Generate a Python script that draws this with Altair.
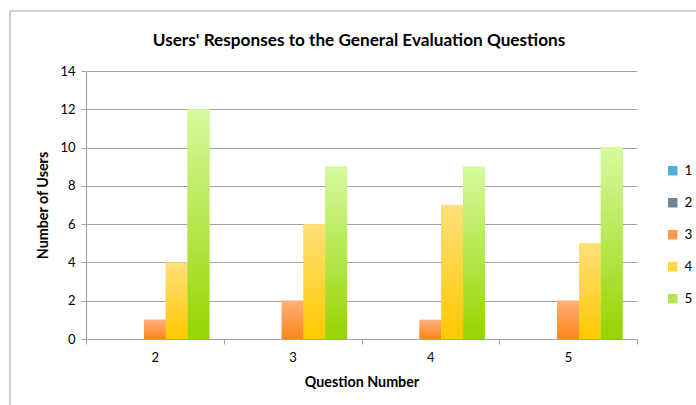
import altair as alt
import pandas as pd

# Question numbers on the x axis and the response levels (legend series)
questions = ["2", "3", "4", "5"]
levels = ["1", "2", "3", "4", "5"]

# Number of users giving each response level, per question
users_level_1 = [0, 0, 0, 0]
users_level_2 = [0, 0, 0, 0]
users_level_3 = [1, 2, 1, 2]
users_level_4 = [4, 6, 7, 5]
users_level_5 = [12, 9, 9, 10]

TITLE = "Users' Responses to the General Evaluation Questions"

# Gradient stops (top, bottom) and a flat colour for the legend swatch
top_colors = ["#93d2ea", "#a9b8c2", "#ffb07c", "#ffe07a", "#d6fa9e"]
bottom_colors = ["#2a93bf", "#456171", "#ff8418", "#ffc800", "#96d400"]
legend_colors = ["#4fb0d8", "#6f8796", "#ff9a4a", "#ffd640", "#b4e650"]

series = [users_level_1, users_level_2, users_level_3, users_level_4, users_level_5]
rows = []
for lvl, vals in zip(levels, series):
    for q, v in zip(questions, vals):
        rows.append({"question": q, "level": lvl, "users": v})
df = pd.DataFrame(rows)

FONT = "Lato"
GRID = "#a3a3a3"

x_enc = alt.X(
    "question:N",
    sort=questions,
    scale=alt.Scale(paddingInner=0, paddingOuter=0),
    axis=alt.Axis(
        title="Question Number",
        labelAngle=0,
        tickBand="extent",
        tickSize=5,
        labelPadding=7,
        titlePadding=11,
    ),
)
xoff_enc = alt.XOffset(
    "level:N",
    sort=levels,
    scale=alt.Scale(domain=levels, paddingOuter=0.66, paddingInner=0),
)
y_enc = alt.Y(
    "users:Q",
    scale=alt.Scale(domain=[0, 14], nice=False),
    axis=alt.Axis(
        title="Number of Users",
        values=list(range(0, 15, 2)),
        tickSize=5,
        labelPadding=6,
        titlePadding=9,
    ),
)

base = alt.Chart(df)

# Flat-coloured bars carry the legend; gradient bars are drawn over them
legend_layer = base.mark_bar().encode(
    x=x_enc,
    xOffset=xoff_enc,
    y=y_enc,
    color=alt.Color(
        "level:N",
        sort=levels,
        scale=alt.Scale(domain=levels, range=legend_colors),
        legend=alt.Legend(
            title=None,
            orient="none",
            legendX=580,
            legendY=93,
            symbolType="square",
            symbolSize=90,
            symbolStrokeWidth=0,
            rowPadding=17,
            labelFontSize=13.5,
            labelFont=FONT,
            labelColor="#000000",
            labelOffset=5,
        ),
    ),
)

gradient_layers = []
for lvl, top, bottom in zip(levels, top_colors, bottom_colors):
    grad = alt.Gradient(
        gradient="linear",
        stops=[
            alt.GradientStop(color=top, offset=0),
            alt.GradientStop(color=bottom, offset=1),
        ],
        x1=0, x2=0, y1=0, y2=1,
    )
    gradient_layers.append(
        base.transform_filter(alt.datum.level == lvl)
        .mark_bar(color=grad)
        .encode(x=x_enc, xOffset=xoff_enc, y=y_enc)
    )

one_row = alt.Chart(pd.DataFrame({"f": [0]}))

# Outer chart frame
frame = one_row.mark_rect(
    fill=None, stroke="#a8a8a8", strokeWidth=1.2
).encode(
    x=alt.value(-76), x2=alt.value(640), y=alt.value(-60), y2=alt.value(360)
)

# Chart heading
heading = one_row.mark_text(
    font=FONT, fontSize=17.2, fontWeight="bold", color="#000000",
    align="center", baseline="middle",
).encode(x=alt.value(273), y=alt.value(-30), text=alt.value(TITLE))

chart = (
    alt.layer(frame, legend_layer, *gradient_layers, heading)
    .properties(
        width=551,
        height=268,
        padding={"left": 86, "top": 71, "right": 59, "bottom": 66},
        autosize=alt.AutoSizeParams(type="none"),
        background="#ffffff",
    )
    .configure_view(stroke=None)
    .configure_axis(
        labelFont=FONT,
        titleFont=FONT,
        labelFontSize=13,
        titleFontSize=14.3,
        titleFontWeight="bold",
        labelColor="#000000",
        titleColor="#000000",
        domainColor=GRID,
        tickColor=GRID,
        gridColor=GRID,
        gridWidth=1.2,
        domainWidth=1.2,
    )
    .configure_axisX(grid=False)
)

chart.save("out.html", embed_options={"renderer": "svg", "actions": False})
